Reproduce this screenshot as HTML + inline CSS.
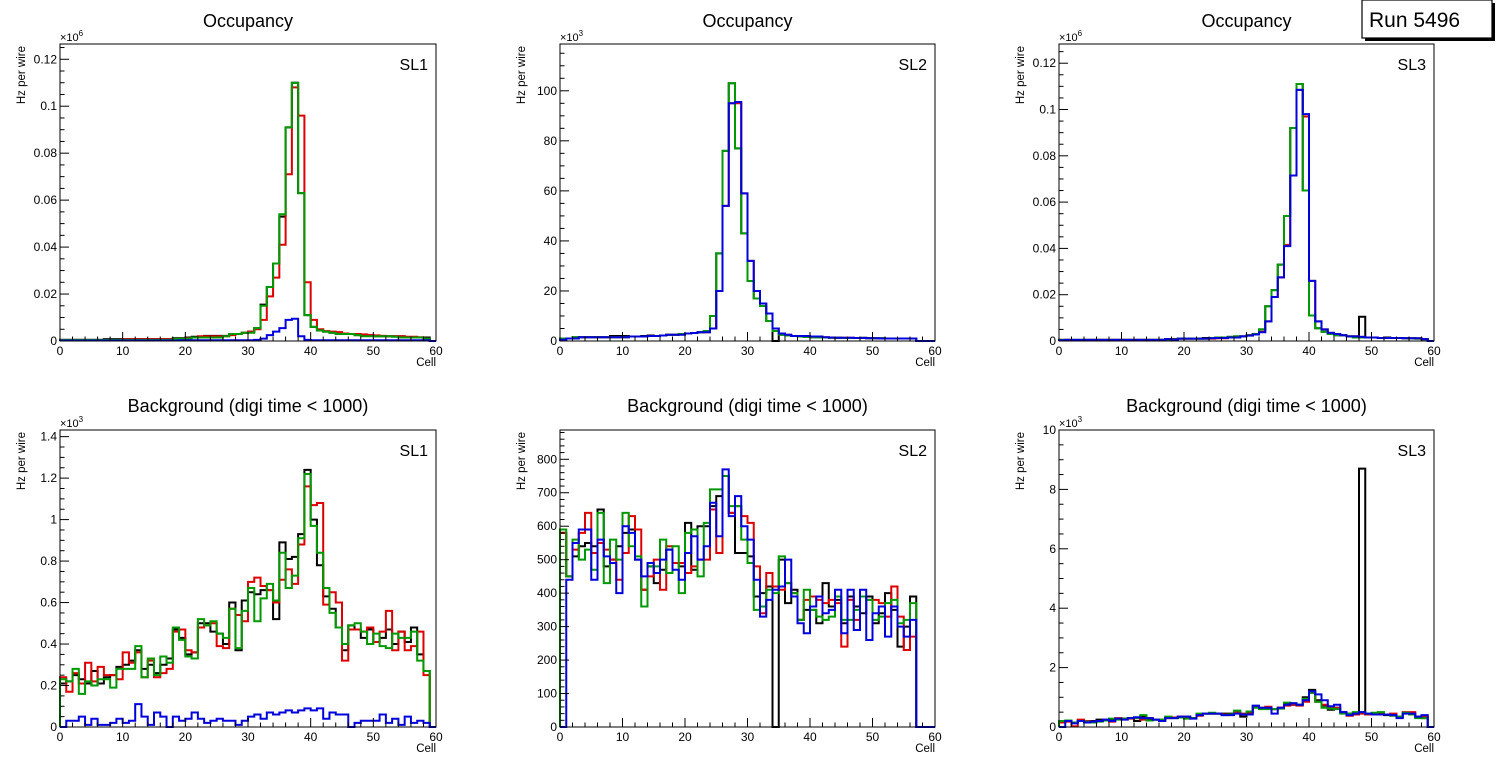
<!DOCTYPE html>
<html><head><meta charset="utf-8"><style>
html,body{margin:0;padding:0;background:#fff;}
svg{display:block;font-family:"Liberation Sans",Arial,sans-serif;}
</style></head><body>
<svg id="c" width="1496" height="772" viewBox="0 0 1496 772">
<g>
<rect x="1365" y="3" width="130" height="38" fill="#000"/>
<rect x="1362" y="0" width="130" height="38" fill="#fff" stroke="#000" stroke-width="1.2"/>
<text x="1369" y="27" font-size="21">Run 5496</text>
</g>
</svg>
<script>
// ---- data: bins 0..59 ----
// top-left SL1 occupancy (x10^3 Hz)
const occ1Black=[0.5,0.5,0.5,0.5,0.5,0.5,0.5,0.8,0.8,0.8,0.8,0.8,0.8,0.8,0.8,0.8,0.8,0.8,1.2,1.2,1.5,1.8,1.8,2.2,2.2,2.2,2.2,3,3,3.5,4,5.5,15.5,23,33,53,91,110,63,11,6,4.5,4,3.5,3,3,3,2.5,2.5,2.5,2,2,2,2,2,1.5,1.5,1.5,1.5,0];
const occ1Red=[0.5,0.5,0.5,0.5,0.5,0.5,0.5,0.5,0.5,0.5,0.8,0.8,0.8,0.8,0.8,0.8,0.8,0.8,1,1,1.2,1.5,2,2,2,2,2,2.5,3,3.5,4,5,9,19,27,41,71,108,96,25,9,5,4.2,4,3.8,3.2,3,3,2.8,2.6,2.4,2.2,2,2,2,1.8,1.8,1.6,1,0];
const occ1Green=[0.5,0.5,0.5,0.5,0.5,0.5,0.5,0.5,0.5,0.5,0.5,0.5,0.5,0.5,0.5,0.5,0.5,0.5,1,1,1,1.5,1.5,1.5,1.5,1.5,2,3,3,3.5,3.5,5.5,15,23,33,54,91,110,63,11,6,4.5,4,3.5,3,3,3,2.5,2,2,2,2,2,1.8,1.5,1.5,1.5,1.5,1,0];
const occ1Blue=[0.2,0.2,0.2,0.2,0.2,0.2,0.2,0.2,0.2,0.2,0.2,0.2,0.2,0.2,0.2,0.2,0.2,0.2,0.2,0.3,0.3,0.3,0.3,0.3,0.3,0.3,0.3,0.3,0.3,0.3,0.3,0.5,1,2.5,4,5.5,9,9.5,2,0.5,0.3,0.3,0.3,0.3,0.3,0.3,0.3,0.3,0.3,0.3,0.3,0.3,0.3,0.3,0.3,0.3,0.3,0.3,0.3,0];
// top-middle SL2 occupancy (x10^3 Hz)
const occ2Black=[1,1,1.5,1.5,1.5,1.5,1.5,1.5,2,2,2,1.8,1.8,2,2.2,2,2.2,2.5,2.5,2.8,3,3.2,3.5,4,5,35,76,103,77,43,24,17,14,8,0,2.5,2.2,2,1.8,1.6,1.5,1.4,1.4,1.3,1.3,1.2,1.2,1.2,1.3,1.2,1.1,1.1,1,1,1,1,1,0,0,0];
const occ2Red=[0.5,1,1.2,1.5,1.5,1.5,1.5,1.5,1.5,1.5,1.5,1.8,1.8,1.8,2,2,2.2,2.5,2.5,2.8,3,3.2,3.5,3.5,5,20,54,95,95,59,32,20,15,11,5,3,2.5,2,2,2,1.8,1.8,1.5,1.4,1.3,1.3,1.3,1.2,1.2,1.1,1.1,1,1,1,1,1,1,0,0,0];
const occ2Green=[1,1,1.5,1.5,1.5,1.5,1.5,1.5,1.5,1.5,1.5,1.8,1.8,1.8,2,2,2.2,2.5,2.5,2.8,3,3.2,3.5,4,10,35,76,103,77,43,24,17,14,8,4,2.5,2.2,2,1.8,1.6,1.5,1.4,1.4,1.3,1.3,1.2,1.2,1.2,1.2,1.1,1.1,1.1,1,1,1,1,1,0,0,0];
const occ2Blue=[0.5,1,1,1.5,1.5,1.5,1.5,1.5,1.5,1.5,1.5,1.8,1.8,1.8,2,2,2.2,2.5,2.5,2.5,3,3.2,3.5,3.5,5,20,54,95,95.5,59,32,20,15,11,5,3,2.5,2,2,2,1.8,1.8,1.5,1.4,1.3,1.3,1.3,1.2,1.2,1.1,1.1,1,1,1,1,1,1,0,0,0];
// top-right SL3 occupancy (x10^3 Hz)
const occ3Black=[0.5,0.5,0.5,0.5,0.5,0.5,0.5,0.5,0.5,0.5,0.5,0.5,0.5,0.5,0.5,0.5,0.5,0.8,0.8,1,1,1,1,1.3,1.3,1.5,1.5,1.8,2,2,2.5,3,5,15,22,33,54,92,111,65,11,5.5,4,3,2.5,2.5,2,2,10.5,1.5,1.5,1.3,1.5,1.3,1.3,1.2,1.2,1,0.8,0];
const occ3Red=[0.5,0.5,0.3,0.3,0.5,0.5,0.5,0.5,0.5,0.5,0.5,0.5,0.5,0.5,0.5,0.5,0.5,0.5,0.5,1,1,1,1,1,1,1.2,1.2,1.5,1.5,2,2.5,3,4,8.5,19,27.5,41.5,71.5,108.5,97,26,8.5,5,3.5,3,2.5,2,2,1.8,1.5,1.5,1.3,1.3,1.3,1.3,1.2,1.2,1.2,0.8,0];
const occ3Green=[0.5,0.5,0.5,0.5,0.5,0.5,0.5,0.5,0.5,0.5,0.5,0.5,0.5,0.5,0.5,0.5,0.5,0.5,0.5,1,1,1,1,1,1.3,1.5,1.5,1.8,2,2,2.5,3,5,15,22,33,54,92,111,65,11,5.5,4,3,2.5,2.5,2,1.5,1.5,1.5,1.5,1.3,1.3,1.3,1.3,1.2,1.2,1,0.8,0];
const occ3Blue=[0.3,0.5,0.5,0.5,0.5,0.5,0.5,0.5,0.5,0.5,0.5,0.5,0.5,0.5,0.5,0.5,0.5,0.8,0.5,1,1,1,1,1,1.2,1.3,1.3,1.5,1.5,2,2.3,2.8,3.8,8.5,19,27.5,41,71.5,108.5,98,26,8.5,5,3.5,3,2.5,2,2,1.8,1.5,1.5,1.3,1.3,1.3,1.3,1.2,1.2,1.2,0.8,0];
// bottom-left SL1 background (x10^3 Hz)
const bkg1Black=[0.21,0.22,0.25,0.23,0.21,0.27,0.21,0.24,0.25,0.29,0.30,0.32,0.37,0.28,0.30,0.26,0.30,0.33,0.47,0.43,0.35,0.36,0.50,0.50,0.46,0.45,0.40,0.60,0.37,0.61,0.65,0.64,0.66,0.66,0.52,0.89,0.81,0.82,0.93,1.24,1.00,0.78,0.63,0.57,0.48,0.37,0.49,0.47,0.43,0.47,0.41,0.43,0.47,0.40,0.46,0.41,0.48,0.35,0.27,0];
const bkg1Red=[0.24,0.17,0.26,0.21,0.31,0.22,0.29,0.25,0.25,0.23,0.36,0.31,0.36,0.24,0.32,0.24,0.26,0.28,0.46,0.47,0.37,0.36,0.48,0.49,0.50,0.39,0.38,0.57,0.54,0.51,0.70,0.72,0.68,0.66,0.60,0.71,0.76,0.69,0.88,1.16,1.07,1.08,0.59,0.65,0.60,0.32,0.47,0.47,0.46,0.48,0.41,0.46,0.56,0.37,0.46,0.37,0.39,0.46,0.25,0];
const bkg1Green=[0.23,0.22,0.28,0.16,0.22,0.20,0.23,0.23,0.19,0.28,0.28,0.28,0.39,0.24,0.33,0.25,0.34,0.31,0.48,0.42,0.34,0.33,0.52,0.49,0.51,0.45,0.43,0.57,0.38,0.56,0.67,0.51,0.62,0.69,0.61,0.84,0.67,0.73,0.91,1.22,0.97,0.84,0.67,0.55,0.48,0.40,0.49,0.50,0.46,0.40,0.45,0.39,0.38,0.45,0.43,0.43,0.46,0.32,0.27,0];
const bkg1Blue=[0,0.03,0.03,0.05,0.01,0.04,0.01,0.01,0.02,0.04,0.02,0.03,0.11,0.05,0.01,0.07,0.05,0,0.05,0.03,0.04,0.07,0.04,0.02,0.03,0.04,0.03,0.03,0.01,0.03,0.05,0.06,0.04,0.07,0.06,0.07,0.08,0.07,0.08,0.09,0.08,0.09,0.04,0.07,0.06,0.06,0,0.02,0.03,0.03,0.03,0.06,0.02,0.04,0.01,0.05,0.02,0.03,0.02,0];
// bottom-middle SL2 background (Hz)
const bkg2Black=[580,450,510,540,550,540,650,480,500,540,580,590,500,410,480,430,470,530,490,480,610,470,600,600,660,690,750,640,520,520,510,390,400,420,0,500,370,410,320,350,350,310,430,360,380,310,390,360,340,390,310,340,400,350,240,300,390,0,0,0];
const bkg2Red=[580,450,530,580,640,520,550,530,500,440,520,630,590,410,450,500,410,540,490,490,460,480,500,500,650,520,750,640,660,630,610,480,340,460,420,410,430,400,320,380,390,380,370,380,370,240,380,320,390,380,380,370,330,420,330,230,270,0,0,0];
const bkg2Green=[590,450,560,500,530,470,640,430,560,500,640,540,510,360,480,480,560,460,540,400,580,590,450,610,710,710,750,660,660,560,490,350,360,410,400,510,430,400,320,410,350,330,320,330,390,320,320,350,390,380,320,330,370,380,310,320,370,0,0,0];
const bkg2Blue=[0,440,550,590,590,440,560,510,490,400,600,580,500,450,490,460,500,530,470,440,520,570,500,540,670,570,770,630,690,600,560,440,330,380,410,420,500,390,310,280,360,390,340,350,410,280,410,290,410,260,340,360,270,360,300,270,320,0,0,0];
// bottom-right SL3 background (x10^3 Hz)
const bkg3Black=[0.18,0.2,0.15,0.22,0.18,0.2,0.25,0.22,0.25,0.28,0.28,0.3,0.2,0.35,0.28,0.25,0.22,0.33,0.32,0.35,0.35,0.3,0.4,0.45,0.45,0.45,0.45,0.45,0.5,0.35,0.5,0.7,0.62,0.62,0.6,0.65,0.8,0.75,0.75,1.0,1.25,0.9,0.72,0.58,0.65,0.5,0.45,0.45,8.7,0.42,0.42,0.45,0.4,0.42,0.35,0.48,0.45,0.35,0.3,0];
const bkg3Red=[0.15,0.18,0.02,0.25,0.2,0.18,0.2,0.25,0.18,0.3,0.28,0.28,0.3,0.25,0.3,0.25,0.25,0.3,0.32,0.35,0.33,0.3,0.38,0.45,0.45,0.45,0.42,0.42,0.5,0.45,0.45,0.7,0.65,0.68,0.6,0.65,0.72,0.75,0.72,0.85,1.15,0.85,0.75,0.65,0.65,0.5,0.38,0.42,0.45,0.42,0.42,0.45,0.42,0.45,0.35,0.5,0.5,0.35,0.35,0];
const bkg3Green=[0.2,0.22,0.15,0.2,0.18,0.15,0.18,0.22,0.28,0.25,0.28,0.3,0.3,0.4,0.22,0.25,0.25,0.35,0.3,0.32,0.28,0.3,0.45,0.45,0.48,0.45,0.4,0.42,0.55,0.42,0.52,0.65,0.6,0.6,0.6,0.62,0.82,0.8,0.75,0.95,1.15,0.85,0.65,0.62,0.6,0.45,0.45,0.5,0.5,0.45,0.48,0.5,0.42,0.38,0.35,0.48,0.42,0.3,0.3,0];
const bkg3Blue=[0,0.2,0.12,0.2,0.15,0.18,0.2,0.25,0.2,0.28,0.25,0.3,0.33,0.3,0.3,0.25,0.2,0.3,0.3,0.35,0.35,0.28,0.4,0.45,0.45,0.45,0.4,0.4,0.45,0.42,0.42,0.72,0.65,0.65,0.45,0.65,0.75,0.8,0.75,0.9,1.2,1.1,0.9,0.7,0.75,0.5,0.4,0.45,0.5,0.45,0.42,0.42,0.42,0.4,0.3,0.45,0.45,0.35,0.4,0];
// axis tick labels
const xTickLabels=["0","10","20","30","40","50","60"];
const yLabelsOcc1=["0","0.02","0.04","0.06","0.08","0.1","0.12"];
const yLabelsOcc2=["0","20","40","60","80","100"];
const yLabelsBkg1=["0","0.2","0.4","0.6","0.8","1","1.2","1.4"];
const yLabelsBkg2=["0","100","200","300","400","500","600","700","800"];
const yLabelsBkg3=["0","2","4","6","8","10"];

const NS="http://www.w3.org/2000/svg";
const svg=document.getElementById('c');
function mk(tag,attrs,parent){const e=document.createElementNS(NS,tag);for(const k in attrs)e.setAttribute(k,attrs[k]);(parent||svg).appendChild(e);return e;}
const COLORS={black:"#000000",red:"#dd0000",green:"#009900",blue:"#0000dd"};

function panel(o){
  const g=mk('g',{});
  
  
  const x0=o.x0,x1=o.x1,y0=o.y0,y1=o.y1;
  const sx=v=>x0+(v/60)*(x1-x0);
  const sy=v=>y1-(v/o.ymax)*(y1-y0);
  const t=mk('text',{x:(x0+x1)/2,y:o.titleY,'font-size':18,'text-anchor':'middle'},g);
  t.textContent=o.title;
  
  
  const order=['black','red','green','blue'];
  order.forEach(c=>{
    const d=o.series[c];let p='M'+sx(0)+','+sy(0);
    for(let i=0;i<60;i++){p+=' L'+sx(i)+','+sy(d[i])+' L'+sx(i+1)+','+sy(d[i]);}
    p+=' L'+sx(60)+','+sy(0);
    const pe=mk('path',{d:p,fill:'none',stroke:COLORS[c],'stroke-width':2,'stroke-linejoin':'miter'},g);
    
    
  });
  const fr=mk('rect',{x:x0,y:y0,width:x1-x0,height:y1-y0,fill:'none',stroke:'#000','stroke-width':1},g);
  
  
  for(let v=0;v<=60;v+=2){
    const major=v%10===0;const X=sx(v);
    mk('line',{x1:X,y1:y1,x2:X,y2:y1-(major?9:4.5),stroke:'#000','stroke-width':1},g);
  }
  xTickLabels.forEach((lab,i)=>{
    const tx=mk('text',{x:sx(i*10),y:y1+14,'font-size':12,'text-anchor':'middle'},g);
    tx.textContent=lab;
    
    
  });
  const xt=mk('text',{x:x1,y:y1+25,'font-size':11.5,'text-anchor':'end'},g);
  xt.textContent='Cell';
  
  
  const step=o.ystep/o.ysub;
  for(let k=0;k*step<=o.ymax+1e-9;k++){
    const v=k*step;const major=k%o.ysub===0;const Y=sy(v);
    mk('line',{x1:x0,y1:Y,x2:x0+(major?9:4.5),y2:Y,stroke:'#000','stroke-width':1},g);
  }
  o.ylabels.forEach((lab,i)=>{
    const ty=mk('text',{x:x0-3,y:sy(i*o.ystep)+4,'font-size':12,'text-anchor':'end'},g);
    ty.textContent=lab;
    
    
  });
  const yt=mk('text',{x:0,y:0,'font-size':11.5,'text-anchor':'end',transform:`translate(${x0-35},${y0+2}) rotate(-90)`},g);
  yt.textContent='Hz per wire';
  
  
  if(o.exp){
    const ex=mk('text',{x:x0,y:y0-3,'font-size':11},g);
    ex.textContent='×10';
    
    
    const sup=mk('tspan',{dy:-5,'font-size':8},ex);sup.textContent=o.exp;
  }
  const sl=mk('text',{x:x1-8,y:y0+26,'font-size':16,'text-anchor':'end'},g);
  sl.textContent=o.sl;
  
  
}
const C1=[60,436],C2=[560,935],C3=[1059,1434];
panel({name:'occupancy-sl1',x0:C1[0],x1:C1[1],y0:44,y1:341,titleY:27,title:'Occupancy',ymax:126.5,ystep:20,ysub:4,ylabels:yLabelsOcc1,exp:'6',sl:'SL1',series:{black:occ1Black,red:occ1Red,green:occ1Green,blue:occ1Blue}});
panel({name:'occupancy-sl2',x0:C2[0],x1:C2[1],y0:44,y1:341,titleY:27,title:'Occupancy',ymax:118.7,ystep:20,ysub:4,ylabels:yLabelsOcc2,exp:'3',sl:'SL2',series:{black:occ2Black,red:occ2Red,green:occ2Green,blue:occ2Blue}});
panel({name:'occupancy-sl3',x0:C3[0],x1:C3[1],y0:44,y1:341,titleY:27,title:'Occupancy',ymax:128.3,ystep:20,ysub:4,ylabels:yLabelsOcc1,exp:'6',sl:'SL3',series:{black:occ3Black,red:occ3Red,green:occ3Green,blue:occ3Blue}});
panel({name:'background-sl1',x0:C1[0],x1:C1[1],y0:430,y1:727,titleY:412,title:'Background (digi time < 1000)',ymax:1.432,ystep:0.2,ysub:4,ylabels:yLabelsBkg1,exp:'3',sl:'SL1',series:{black:bkg1Black,red:bkg1Red,green:bkg1Green,blue:bkg1Blue}});
panel({name:'background-sl2',x0:C2[0],x1:C2[1],y0:430,y1:727,titleY:412,title:'Background (digi time < 1000)',ymax:887.5,ystep:100,ysub:5,ylabels:yLabelsBkg2,exp:'',sl:'SL2',series:{black:bkg2Black,red:bkg2Red,green:bkg2Green,blue:bkg2Blue}});
panel({name:'background-sl3',x0:C3[0],x1:C3[1],y0:430,y1:727,titleY:412,title:'Background (digi time < 1000)',ymax:10,ystep:2,ysub:4,ylabels:yLabelsBkg3,exp:'3',sl:'SL3',series:{black:bkg3Black,red:bkg3Red,green:bkg3Green,blue:bkg3Blue}});
</script>
</body></html>
